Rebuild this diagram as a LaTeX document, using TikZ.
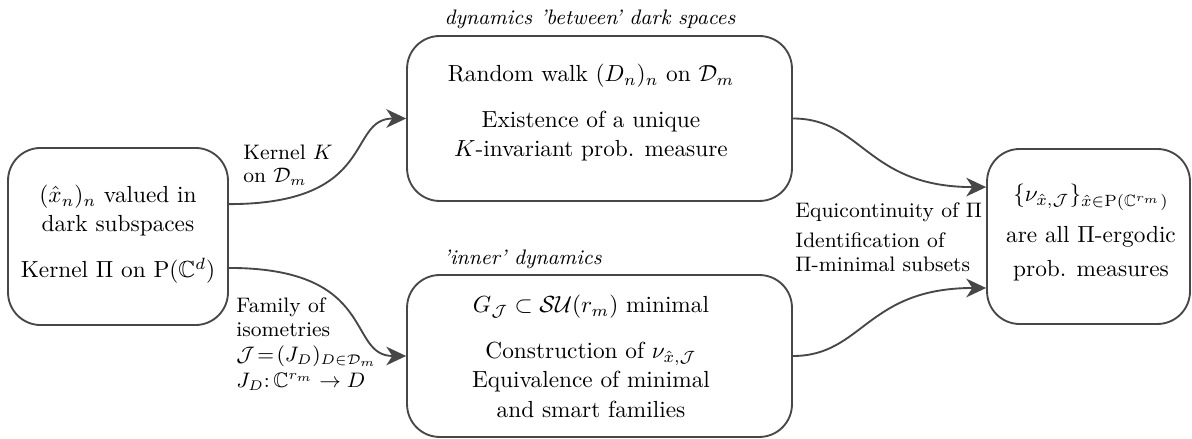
\documentclass[tikz,border=0pt]{standalone}
\usepackage{amssymb}
\usetikzlibrary{arrows.meta}
\tikzset{
  box/.style={draw=black!72, line width=0.8pt, rounded corners=14pt, inner sep=0pt},
  ln/.style={anchor=base, inner sep=0pt},
  lbl/.style={anchor=base west, inner sep=0pt, font=\small},
  ttl/.style={inner sep=0pt, font=\small\itshape},
  conn/.style={draw=black!72, line width=0.8pt, -{Stealth[length=8.5pt,width=8pt,inset=2.6pt]}}
}
\begin{document}
\begin{tikzpicture}[x=0.4292pt,y=-0.4292pt]
\useasboundingbox (0,0) rectangle (1192,439);
% boxes
\node[box, minimum width=94.4pt, minimum height=76pt] (L) at (118,236.5) {};
\node[box, minimum width=165.2pt, minimum height=70.8pt] (T) at (599.5,118.5) {};
\node[box, minimum width=165.2pt, minimum height=69.5pt] (B) at (599.5,356) {};
\node[box, minimum width=87.1pt, minimum height=75.1pt] (R) at (1088.5,236.5) {};
% box texts
\node[ln] (l1) at (118,203) {$(\hat{x}_n)_n$ valued in};
\node[ln] (l2) at (118,232) {dark subspaces};
\node[ln] (l3) at (118,278) {Kernel $\Pi$ on $\mathrm{P}(\mathbb{C}^d)$};
\node[ln] (t1) at (591,82) {Random walk $(D_n)_n$ on $\mathcal{D}_m$};
\node[ln] (t2) at (591,128) {Existence of a unique};
\node[ln] (t3) at (591,157) {$K$-invariant prob. measure};
\node[ln] (b1) at (591,313) {$G_{\mathcal{J}}\subset\mathcal{SU}(r_m)$ minimal};
\node[ln] (b2) at (591,359) {Construction of $\nu_{\hat{x},\mathcal{J}}$};
\node[ln] (b3) at (591,388) {Equivalence of minimal};
\node[ln] (b4) at (591,418) {and smart families};
\node[ln] (r1) at (1091,202) {$\{\nu_{\hat{x},\mathcal{J}}\}_{\hat{x}\in\mathrm{P}(\mathbb{C}^{r_m})}$};
\node[ln] (r2) at (1091,243) {are all $\Pi$-ergodic};
\node[ln] (r3) at (1091,277) {prob. measures};
% titles
\node[ttl, anchor=base] (tt) at (590,25) {dynamics 'between' dark spaces};
\node[ttl, anchor=base west] (bt) at (443,265) {'inner' dynamics};
% connector labels
\node[lbl] (k1) at (243,160) {Kernel $K$};
\node[lbl] (k2) at (243,183) {on $\mathcal{D}_m$};
\node[lbl] (f1) at (236,313) {Family of};
\node[lbl] (f2) at (236,337) {isometries};
\node[lbl] (f3) at (236,362) {$\mathcal{J}\!=\!(J_D)_{D\in\mathcal{D}_m}$};
\node[lbl] (f4) at (236,388) {$J_D\colon\mathbb{C}^{r_m}\to D$};
\node[lbl] (e1) at (795,218) {Equicontinuity of $\Pi$};
\node[lbl] (e2) at (795,248) {Identification of};
\node[lbl] (e3) at (795,272) {$\Pi$-minimal subsets};
% connectors
\draw[conn] ([yshift=13.9pt]L.east) .. controls +(150,0) and +(-60,0) .. (T.west);
\draw[conn] ([yshift=-13.5pt]L.east) .. controls +(150,0) and +(-60,0) .. (B.west);
\draw[conn] (T.east) .. controls +(70,0) and +(-120,0) .. ([yshift=21.2pt]R.west);
\draw[conn] (B.east) .. controls +(70,0) and +(-120,0) .. ([yshift=-22.1pt]R.west);
\end{tikzpicture}
\end{document}
